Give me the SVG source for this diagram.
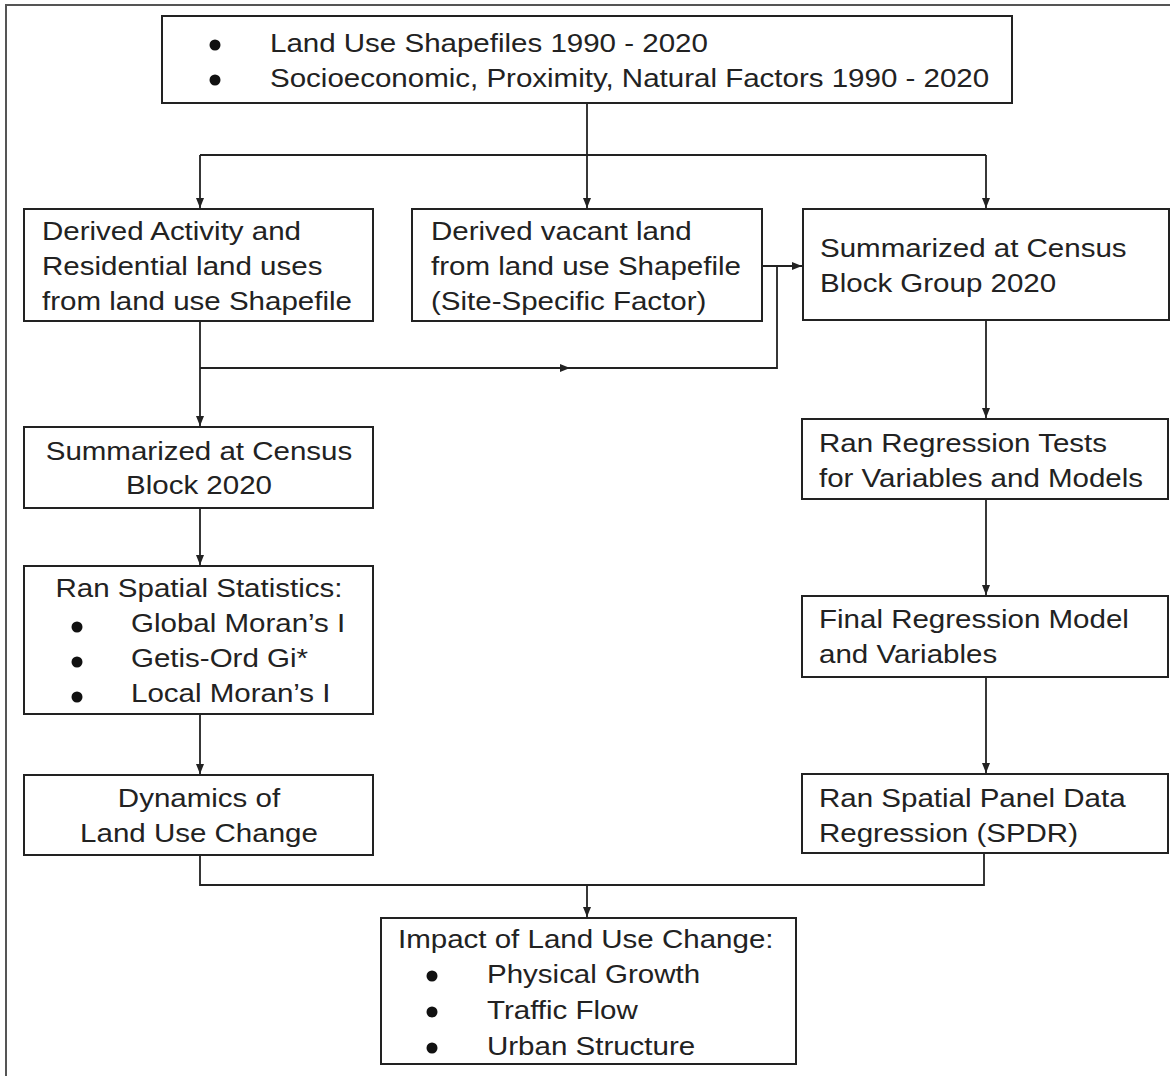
<svg xmlns="http://www.w3.org/2000/svg" width="1170" height="1076" viewBox="0 0 1170 1076">
<defs>
<style>
.frame{fill:none;stroke:#555;stroke-width:2}
.box{fill:#fff;stroke:#222;stroke-width:2}
.t{font-family:"Liberation Sans",Arial,sans-serif;font-size:26px;fill:#222}
.c{text-anchor:middle}
.ln{fill:none;stroke:#222;stroke-width:1.8}
.dot{fill:#111}
</style>
<marker id="ah" viewBox="0 0 10 10" refX="10" refY="5" markerWidth="10" markerHeight="10" markerUnits="userSpaceOnUse" orient="auto">
<path d="M0,1 L10,5 L0,9 Z" fill="#222"/>
</marker>
</defs>
<rect x="0" y="0" width="1170" height="1076" fill="#fff"/>
<rect class="frame" x="6" y="5" width="1175" height="1085"/>

<g id="connectors">
<path class="ln" d="M587,103 V155"/>
<path class="ln" d="M200,155 H986"/>
<path class="ln" d="M200,155 V208" marker-end="url(#ah)"/>
<path class="ln" d="M587,155 V208" marker-end="url(#ah)"/>
<path class="ln" d="M986,155 V208" marker-end="url(#ah)"/>
<path class="ln" d="M762,266 H802" marker-end="url(#ah)"/>
<path class="ln" d="M777,266 V368 H570"/>
<path class="ln" d="M200,368 H570" marker-end="url(#ah)"/>
<path class="ln" d="M200,321 V426" marker-end="url(#ah)"/>
<path class="ln" d="M200,508 V565" marker-end="url(#ah)"/>
<path class="ln" d="M200,714 V774" marker-end="url(#ah)"/>
<path class="ln" d="M986,320 V418" marker-end="url(#ah)"/>
<path class="ln" d="M986,499 V595" marker-end="url(#ah)"/>
<path class="ln" d="M986,677 V773" marker-end="url(#ah)"/>
<path class="ln" d="M200,855 V885 H984 V853"/>
<path class="ln" d="M587,885 V917" marker-end="url(#ah)"/>
</g>

<g id="inputs">
<rect class="box" x="162" y="16" width="850" height="87"/>
<circle class="dot" cx="215" cy="45" r="5.5"/>
<circle class="dot" cx="215" cy="80" r="5.5"/>
<text class="t" transform="translate(270 52) scale(1.135 1)"><tspan x="0" y="0">Land Use Shapefiles 1990 - 2020</tspan><tspan x="0" y="35">Socioeconomic, Proximity, Natural Factors 1990 - 2020</tspan></text>
</g>

<g id="derived-activity">
<rect class="box" x="24" y="209" width="349" height="112"/>
<text class="t" transform="translate(42 240) scale(1.135 1)"><tspan x="0" y="0">Derived Activity and</tspan><tspan x="0" y="35">Residential land uses</tspan><tspan x="0" y="70">from land use Shapefile</tspan></text>
</g>

<g id="derived-vacant">
<rect class="box" x="412" y="209" width="350" height="112"/>
<text class="t" transform="translate(431 240) scale(1.135 1)"><tspan x="0" y="0">Derived vacant land</tspan><tspan x="0" y="35">from land use Shapefile</tspan><tspan x="0" y="70">(Site-Specific Factor)</tspan></text>
</g>

<g id="block-group">
<rect class="box" x="803" y="209" width="366" height="111"/>
<text class="t" transform="translate(820 257) scale(1.135 1)"><tspan x="0" y="0">Summarized at Census</tspan><tspan x="0" y="35">Block Group 2020</tspan></text>
</g>

<g id="census-block">
<rect class="box" x="24" y="427" width="349" height="81"/>
<text class="t c" transform="translate(199 460) scale(1.135 1)"><tspan x="0" y="0">Summarized at Census</tspan><tspan x="0" y="34">Block 2020</tspan></text>
</g>

<g id="spatial-stats">
<rect class="box" x="24" y="566" width="349" height="148"/>
<text class="t c" transform="translate(199 597) scale(1.135 1)">Ran Spatial Statistics:</text>
<circle class="dot" cx="77" cy="627" r="5.5"/>
<circle class="dot" cx="77" cy="662" r="5.5"/>
<circle class="dot" cx="77" cy="697" r="5.5"/>
<text class="t" transform="translate(131 632) scale(1.135 1)"><tspan x="0" y="0">Global Moran’s I</tspan><tspan x="0" y="35">Getis-Ord Gi*</tspan><tspan x="0" y="70">Local Moran’s I</tspan></text>
</g>

<g id="dynamics">
<rect class="box" x="24" y="775" width="349" height="80"/>
<text class="t c" transform="translate(199 807) scale(1.135 1)"><tspan x="0" y="0">Dynamics of</tspan><tspan x="0" y="35">Land Use Change</tspan></text>
</g>

<g id="regression-tests">
<rect class="box" x="802" y="419" width="366" height="80"/>
<text class="t" transform="translate(819 452) scale(1.135 1)"><tspan x="0" y="0">Ran Regression Tests</tspan><tspan x="0" y="35">for Variables and Models</tspan></text>
</g>

<g id="final-model">
<rect class="box" x="802" y="596" width="366" height="81"/>
<text class="t" transform="translate(819 628) scale(1.135 1)"><tspan x="0" y="0">Final Regression Model</tspan><tspan x="0" y="35">and Variables</tspan></text>
</g>

<g id="spdr">
<rect class="box" x="802" y="774" width="366" height="79"/>
<text class="t" transform="translate(819 807) scale(1.135 1)"><tspan x="0" y="0">Ran Spatial Panel Data</tspan><tspan x="0" y="35">Regression (SPDR)</tspan></text>
</g>

<g id="impact">
<rect class="box" x="381" y="918" width="415" height="146"/>
<text class="t" transform="translate(398 948) scale(1.135 1)">Impact of Land Use Change:</text>
<circle class="dot" cx="432" cy="976" r="5.5"/>
<circle class="dot" cx="432" cy="1012" r="5.5"/>
<circle class="dot" cx="432" cy="1048" r="5.5"/>
<text class="t" transform="translate(487 983) scale(1.135 1)"><tspan x="0" y="0">Physical Growth</tspan><tspan x="0" y="36">Traffic Flow</tspan><tspan x="0" y="72">Urban Structure</tspan></text>
</g>
</svg>
